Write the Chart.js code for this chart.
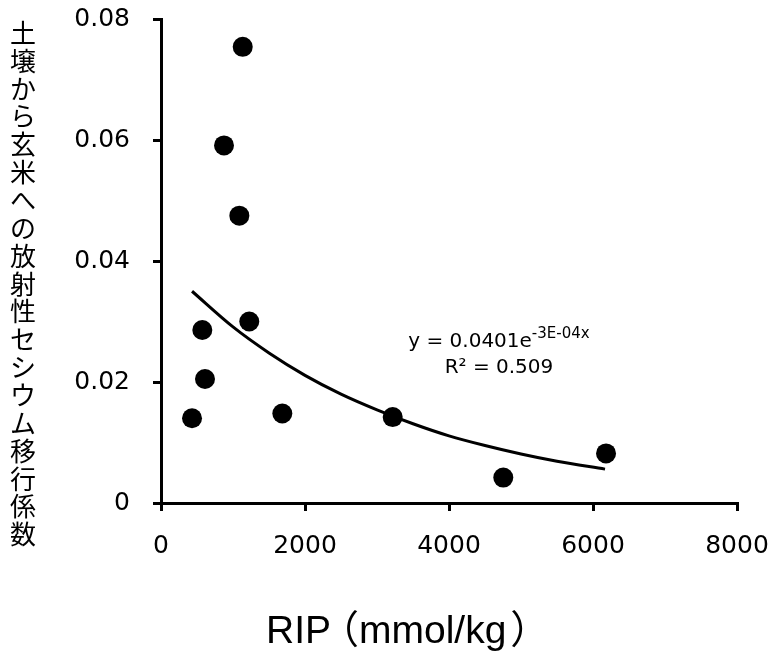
<!DOCTYPE html>
<html>
<head>
<meta charset="utf-8">
<script src="https://cdn.jsdelivr.net/npm/chart.js@4/dist/chart.umd.min.js"></script>
<style>
  html, body { margin: 0; padding: 0; background: #fff; }
</style>
</head>
<body>
<canvas id="chart" width="772" height="654"></canvas>
<script>
// RIP (mmol/kg) vs transfer coefficient soil -> brown rice
const ripValues = [431, 574, 611, 875, 1088, 1135, 1226, 1685, 3218, 4754, 6181];
const transferCoef = [0.0140, 0.0286, 0.0205, 0.0591, 0.0475, 0.0754, 0.0300, 0.0148, 0.0142, 0.0042, 0.0082];

// exponential trend line
const trendX = [431, 1000, 1500, 2000, 2500, 3000, 3500, 4000, 4500, 5000, 5500, 6167];
const trendY = [0.0350, 0.0291, 0.0248, 0.0211, 0.0180, 0.0154, 0.0131, 0.0111, 0.0095, 0.0081, 0.0069, 0.0056];

const xTicks = [0, 2000, 4000, 6000, 8000];
const yTicks = [0, 0.02, 0.04, 0.06, 0.08];

const yTitle = '土壌から玄米への放射性セシウム移行係数';
const xTitleParts = ['RIP', '（', 'mmol/kg', '）'];
const fitMain = 'y = 0.0401e';
const fitSup = '-3E-04x';
const fitR2 = 'R² = 0.509';

const tickFont = { family: 'DejaVu Sans', size: 25 };

function axisOptions(ticks, min, max, pad, size) {
    return {
        type: 'linear',
        min: min,
        max: max,
        afterBuildTicks: (scale) => {
            scale.ticks = ticks.map(v => ({ value: v }));
        },
        afterFit: (scale) => {
            // fixed axis box, no extra room for the end labels
            if (scale.isHorizontal()) scale.height = size;
            else scale.width = size;
            scale.paddingLeft = 0;
            scale.paddingRight = 0;
            scale.paddingTop = 0;
            scale.paddingBottom = 0;
        },
        ticks: {
            color: '#000',
            font: tickFont,
            padding: pad,
            callback: (v) => String(v)
        },
        grid: {
            display: true,
            drawOnChartArea: false,
            drawTicks: true,
            tickLength: 8,
            color: '#000',
            lineWidth: 3
        },
        border: { display: true, color: '#000', width: 3 }
    };
}

const textPlugin = {
    id: 'texts',
    afterDraw(chart) {
        const ctx = chart.ctx;
        const xs = chart.scales.x;
        const ys = chart.scales.y;
        ctx.save();
        ctx.fillStyle = '#000';

        // vertical y title, one upright character per line
        ctx.font = '26px "Noto Sans CJK JP"';
        ctx.textAlign = 'center';
        ctx.textBaseline = 'middle';
        [...yTitle].forEach((ch, i) => {
            ctx.fillText(ch, 23, 33 + i * 27.86);
        });

        // x title, the full-width brackets sit tight like the original
        ctx.textAlign = 'left';
        ctx.textBaseline = 'alphabetic';
        const base = 643;
        let x = 266;
        ctx.font = '39px "Liberation Sans"';
        ctx.fillText(xTitleParts[0], x, base);
        x += ctx.measureText(xTitleParts[0]).width - 11;
        ctx.font = '39px "Noto Sans CJK JP"';
        ctx.fillText(xTitleParts[1], x, base);
        x += ctx.measureText(xTitleParts[1]).width;
        ctx.font = '39px "Liberation Sans"';
        ctx.fillText(xTitleParts[2], x, base);
        x += ctx.measureText(xTitleParts[2]).width + 4;
        ctx.font = '39px "Noto Sans CJK JP"';
        ctx.fillText(xTitleParts[3], x, base);

        // fit equation
        const cx = xs.getPixelForValue(4694);
        const y1 = ys.getPixelForValue(0.0258);
        const y2 = ys.getPixelForValue(0.0215);
        ctx.font = '20px "DejaVu Sans"';
        const wMain = ctx.measureText(fitMain).width;
        ctx.font = '15px "DejaVu Sans"';
        const wSup = ctx.measureText(fitSup).width;
        const start = cx - (wMain + wSup) / 2;
        ctx.font = '20px "DejaVu Sans"';
        ctx.fillText(fitMain, start, y1);
        ctx.font = '15px "DejaVu Sans"';
        ctx.fillText(fitSup, start + wMain, y1 - 9);
        ctx.font = '20px "DejaVu Sans"';
        ctx.textAlign = 'center';
        ctx.fillText(fitR2, cx, y2);
        ctx.restore();
    }
};

const chart = new Chart(document.getElementById('chart').getContext('2d'), {
    type: 'scatter',
    data: {
        datasets: [
            {
                label: 'data',
                data: ripValues.map((x, i) => ({ x: x, y: transferCoef[i] })),
                backgroundColor: '#000',
                borderColor: '#000',
                pointRadius: 10,
                pointBorderWidth: 0,
                order: 1
            },
            {
                label: 'trend',
                type: 'line',
                data: trendX.map((x, i) => ({ x: x, y: trendY[i] })),
                borderColor: '#000',
                borderWidth: 3,
                pointRadius: 0,
                fill: false,
                tension: 0.4,
                cubicInterpolationMode: 'monotone',
                order: 2
            }
        ]
    },
    options: {
        responsive: false,
        animation: false,
        devicePixelRatio: 1,
        layout: { padding: { left: 0, top: 19, right: 35, bottom: 0 } },
        plugins: {
            legend: { display: false },
            tooltip: { enabled: false }
        },
        scales: {
            x: axisOptions(xTicks, 0, 8000, 20, 151),
            y: axisOptions(yTicks, 0, 0.08, 23, 161)
        }
    },
    plugins: [textPlugin]
});
</script>
</body>
</html>
